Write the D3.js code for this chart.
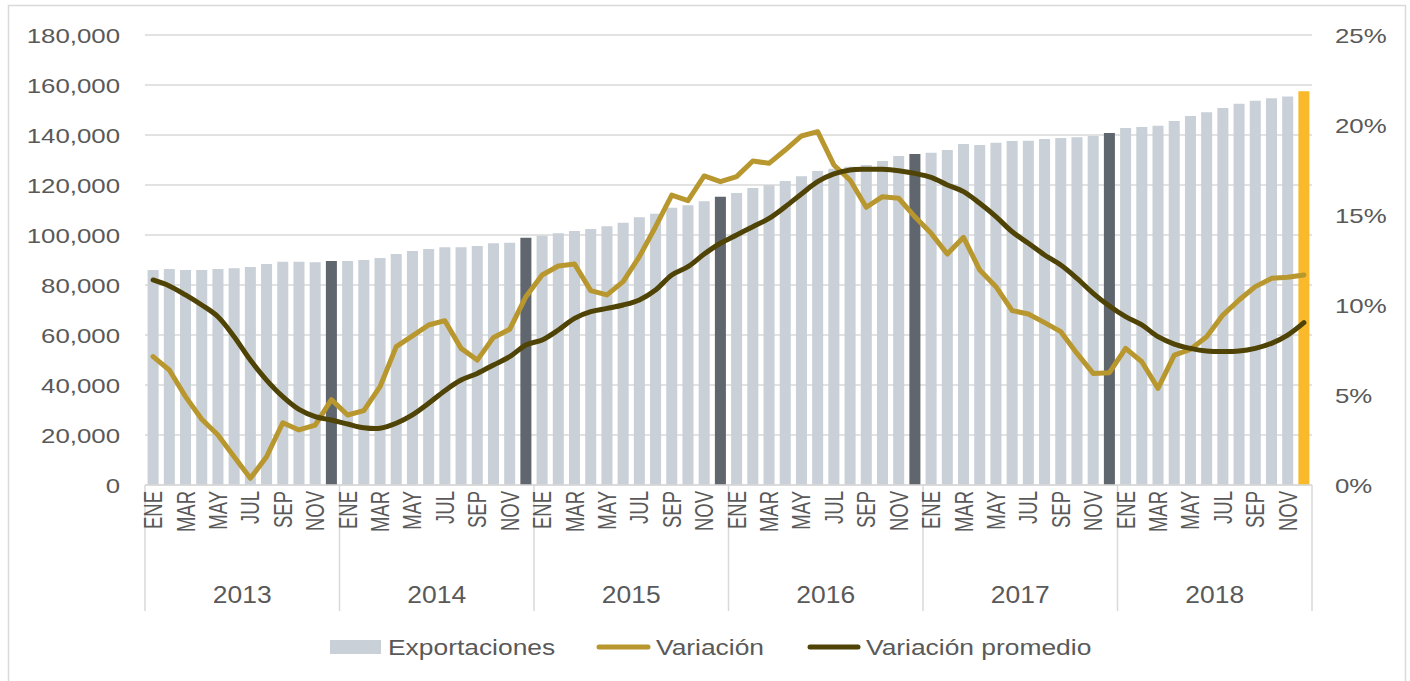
<!DOCTYPE html>
<html>
<head>
<meta charset="utf-8">
<script src="https://cdn.jsdelivr.net/npm/d3@7"></script>
<style>
  body { margin: 0; background: #fff; }
  svg text { font-family: "Liberation Sans", Arial, sans-serif; fill: #595959; }
</style>
</head>
<body>
<div id="chart"></div>
<script>
const years = ["2013", "2014", "2015", "2016", "2017", "2018"];
const monthNames = ["ENE", "FEB", "MAR", "ABR", "MAY", "JUN", "JUL", "AGO", "SEP", "OCT", "NOV", "DIC"];

// Exportaciones (left axis), one value per month 2013-2018
const exportaciones = [
    86000, 86400, 86000, 86000, 86400, 86700, 87200, 88400, 89300, 89300, 89100, 89600,
    89600, 90000, 90800, 92400, 93600, 94400, 95100, 95100, 95600, 96700, 96900, 98900,
    99700, 100700, 101600, 102400, 103500, 104900, 107100, 108500, 110900, 111900, 113500, 115300,
    116800, 118800, 119900, 121600, 123500, 125600, 126500, 127300, 128000, 129600, 131600, 132400,
    132900, 134000, 136400, 136000, 136900, 137600, 137700, 138400, 138800, 139100, 139600, 140800,
    142800, 143200, 143700, 145600, 147600, 149100, 150800, 152500, 153700, 154700, 155400, 157500
];

// Variación (%), right axis
const variacion = [
    7.13, 6.39, 4.91, 3.65, 2.78, 1.57, 0.37, 1.57, 3.46, 3.06, 3.33, 4.74,
    3.89, 4.13, 5.46, 7.69, 8.28, 8.89, 9.13, 7.59, 6.94, 8.20, 8.65, 10.46,
    11.67, 12.17, 12.28, 10.80, 10.56, 11.30, 12.69, 14.35, 16.11, 15.80, 17.17, 16.85,
    17.13, 18.00, 17.87, 18.61, 19.39, 19.63, 17.78, 16.94, 15.43, 16.02, 15.93, 14.90,
    13.98, 12.83, 13.76, 11.94, 11.02, 9.69, 9.50, 9.02, 8.52, 7.31, 6.20, 6.24,
    7.59, 6.85, 5.37, 7.22, 7.54, 8.24, 9.44, 10.28, 11.02, 11.48, 11.54, 11.67
];

// Variación promedio (%), right axis
const promedio = [
    11.39, 11.06, 10.56, 10.00, 9.35, 8.24, 6.94, 5.83, 4.91, 4.20, 3.80, 3.61,
    3.39, 3.18, 3.15, 3.43, 3.89, 4.54, 5.24, 5.83, 6.20, 6.67, 7.13, 7.78,
    8.06, 8.61, 9.26, 9.63, 9.81, 10.00, 10.28, 10.83, 11.67, 12.13, 12.83, 13.43,
    13.89, 14.35, 14.81, 15.46, 16.17, 16.85, 17.28, 17.50, 17.54, 17.54, 17.46, 17.31,
    17.09, 16.67, 16.30, 15.65, 14.91, 14.07, 13.43, 12.78, 12.22, 11.48, 10.65, 9.94,
    9.35, 8.89, 8.24, 7.83, 7.59, 7.44, 7.41, 7.44, 7.59, 7.87, 8.33, 9.02
];

const leftTicks = [0, 20000, 40000, 60000, 80000, 100000, 120000, 140000, 160000, 180000];
const rightTicks = [0, 5, 10, 15, 20, 25];

const width = 1410;
const height = 681;
const plot = { left: 145, right: 1312, top: 35, bottom: 485 };

const data = exportaciones.map(function(v, i) {
    return { idx: i, year: years[Math.floor(i / 12)], month: monthNames[i % 12], value: v,
             variacion: variacion[i], promedio: promedio[i] };
});

const svg = d3.select("#chart").append("svg")
    .attr("width", width)
    .attr("height", height);

// outer frame (bottom edge is off the picture)
svg.append("path")
    .attr("d", "M8.5,690 V5.5 H1405.5 V690")
    .attr("fill", "none")
    .attr("stroke", "#d9d9d9")
    .attr("stroke-width", 1.5);

const x = d3.scaleBand()
    .domain(data.map(function(d) { return d.idx; }))
    .range([plot.left, plot.right])
    .paddingInner(0.32)
    .paddingOuter(0.16);

const y = d3.scaleLinear().domain([0, 180000]).range([plot.bottom, plot.top]);
const y2 = d3.scaleLinear().domain([0, 25]).range([plot.bottom, plot.top]);

// gridlines
svg.append("g").selectAll("line")
    .data(leftTicks)
    .enter().append("line")
    .attr("x1", plot.left).attr("x2", plot.right)
    .attr("y1", function(d) { return y(d); })
    .attr("y2", function(d) { return y(d); })
    .attr("stroke", "#d9d9d9")
    .attr("stroke-width", 1.5);

// left axis labels
const fmt = d3.format(",");
svg.append("g").selectAll("text")
    .data(leftTicks)
    .enter().append("text")
    .attr("transform", function(d) { return "translate(120," + (y(d) + 7.5) + ") scale(1.23,1)"; })
    .attr("text-anchor", "end")
    .style("font-size", "21px")
    .text(function(d) { return fmt(d); });

// right axis labels
svg.append("g").selectAll("text")
    .data(rightTicks)
    .enter().append("text")
    .attr("transform", function(d) { return "translate(1335," + (y2(d) + 7.5) + ") scale(1.23,1)"; })
    .attr("text-anchor", "start")
    .style("font-size", "21px")
    .text(function(d) { return d + "%"; });

// bars
svg.append("g").selectAll("rect")
    .data(data)
    .enter().append("rect")
    .attr("x", function(d) { return x(d.idx); })
    .attr("y", function(d) { return y(d.value); })
    .attr("width", x.bandwidth())
    .attr("height", function(d) { return y(0) - y(d.value); })
    .attr("fill", function(d) {
        if (d.idx === data.length - 1) return "#f9b92a";
        if (d.idx % 12 === 11) return "#5f666d";
        return "#c9d0d7";
    });

// lines
const cx = function(d) { return x(d.idx) + x.bandwidth() / 2; };

svg.append("path")
    .datum(data)
    .attr("fill", "none")
    .attr("stroke", "#b8972f")
    .attr("stroke-width", 5)
    .attr("stroke-linejoin", "round")
    .attr("stroke-linecap", "round")
    .attr("d", d3.line().x(cx).y(function(d) { return y2(d.variacion); }));

svg.append("path")
    .datum(data)
    .attr("fill", "none")
    .attr("stroke", "#4f4306")
    .attr("stroke-width", 5)
    .attr("stroke-linecap", "round")
    .attr("d", d3.line().curve(d3.curveCatmullRom.alpha(0.5)).x(cx).y(function(d) { return y2(d.promedio); }));

// x axis baseline and year separators
svg.append("line")
    .attr("x1", plot.left).attr("x2", plot.right)
    .attr("y1", plot.bottom).attr("y2", plot.bottom)
    .attr("stroke", "#d9d9d9").attr("stroke-width", 1.5);

const yearX = d3.scaleLinear().domain([0, years.length]).range([plot.left, plot.right]);
svg.append("g").selectAll("line")
    .data(d3.range(years.length + 1))
    .enter().append("line")
    .attr("x1", function(d) { return yearX(d); })
    .attr("x2", function(d) { return yearX(d); })
    .attr("y1", plot.bottom).attr("y2", 611)
    .attr("stroke", "#d9d9d9").attr("stroke-width", 1.5);

// month labels (every other month)
svg.append("g").selectAll("text")
    .data(data.filter(function(d) { return d.idx % 2 === 0; }))
    .enter().append("text")
    .attr("transform", function(d) { return "translate(" + cx(d) + ",491) scale(1.35,1) rotate(-90)"; })
    .attr("text-anchor", "end")
    .attr("dy", "0.36em")
    .style("font-size", "18.5px")
    .text(function(d) { return d.month; });

// year labels
svg.append("g").selectAll("text")
    .data(years)
    .enter().append("text")
    .attr("transform", function(d, i) { return "translate(" + ((yearX(i) + yearX(i + 1)) / 2) + ",603) scale(1.15,1)"; })
    .attr("text-anchor", "middle")
    .style("font-size", "23px")
    .text(function(d) { return d; });

// legend
const legend = svg.append("g");
legend.append("rect")
    .attr("x", 330).attr("y", 640).attr("width", 51).attr("height", 14)
    .attr("fill", "#c9d0d7");
legend.append("line")
    .attr("x1", 599).attr("x2", 648).attr("y1", 647).attr("y2", 647)
    .attr("stroke", "#b8972f").attr("stroke-width", 5).attr("stroke-linecap", "round");
legend.append("line")
    .attr("x1", 810).attr("x2", 858).attr("y1", 647).attr("y2", 647)
    .attr("stroke", "#4f4306").attr("stroke-width", 5).attr("stroke-linecap", "round");

const legendItems = [
    { label: "Exportaciones", x: 388 },
    { label: "Variación", x: 656 },
    { label: "Variación promedio", x: 866 }
];
legend.selectAll("text")
    .data(legendItems)
    .enter().append("text")
    .attr("transform", function(d) { return "translate(" + d.x + ",655) scale(1.2,1)"; })
    .style("font-size", "22px")
    .text(function(d) { return d.label; });
</script>
</body>
</html>
